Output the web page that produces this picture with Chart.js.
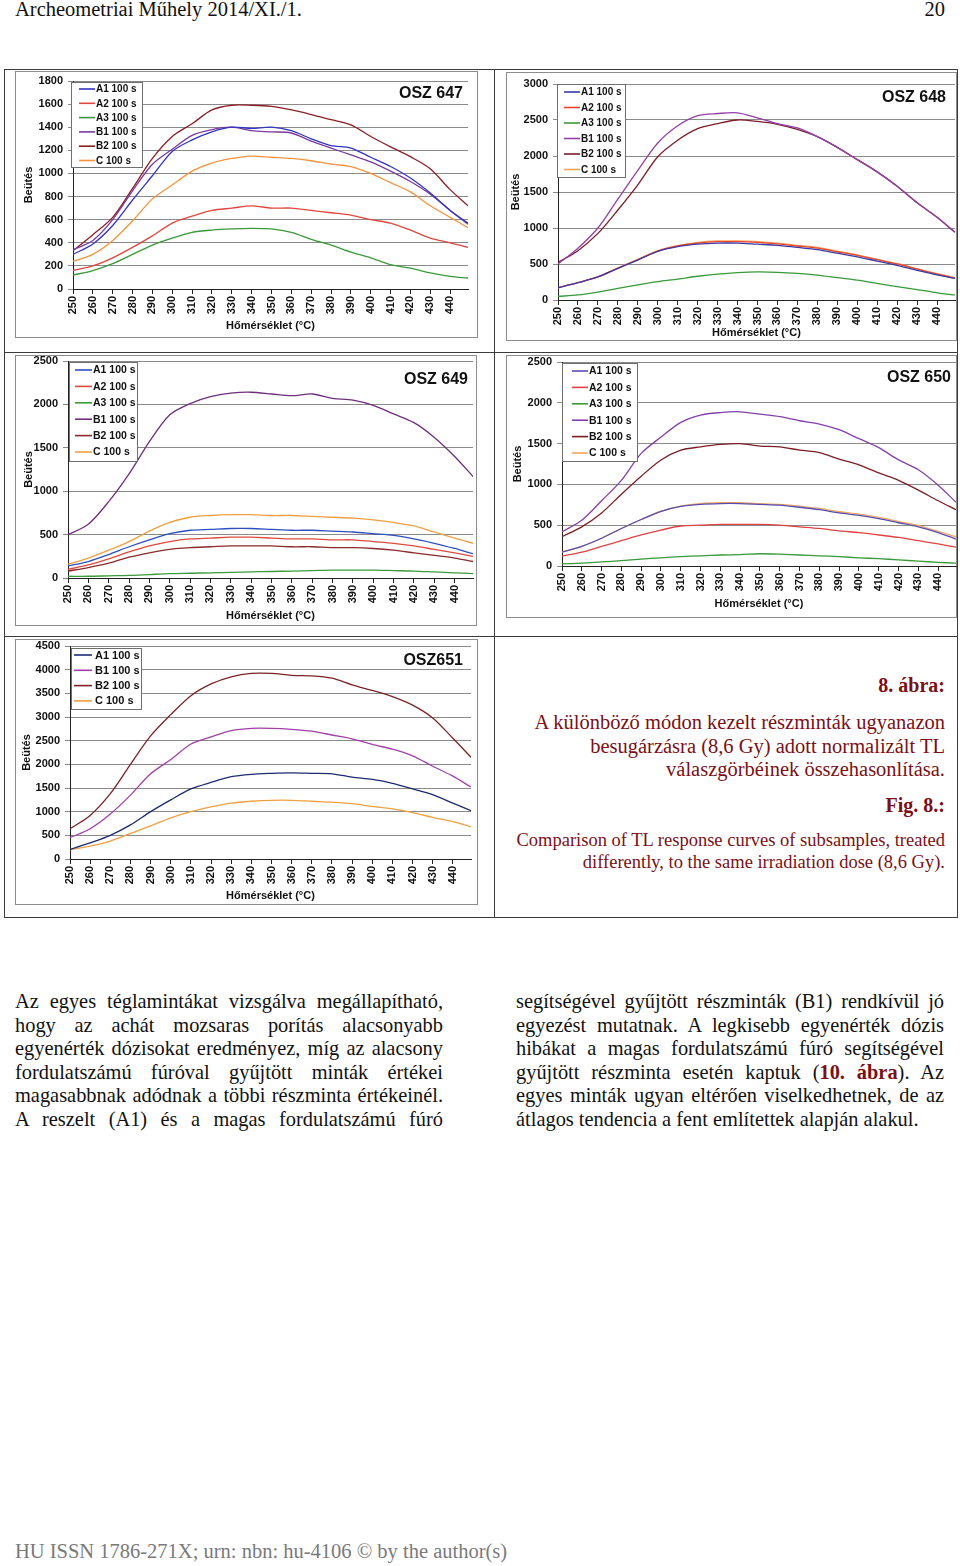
<!DOCTYPE html>
<html>
<head>
<meta charset="utf-8">
<script src="https://cdn.jsdelivr.net/npm/chart.js@4.4.1/dist/chart.umd.min.js"></script>
<style>
  body { margin: 0; width: 960px; height: 1566px; position: relative; background: #fff; overflow: hidden;
         font-family: "Liberation Serif", "Times New Roman", serif; }
  .box { position: absolute; border: 1px solid #8c8c8c; box-sizing: border-box; }
  .rule { position: absolute; background: #3c3c3c; }
  canvas { position: absolute; }
  .txt { position: absolute; white-space: nowrap; }
  .col { position: absolute; width: 428px; font-size: 20.4px; line-height: 23.6px; color: #111; }
  .col div { text-align: justify; text-align-last: justify; white-space: nowrap; }
  .col div.last { text-align-last: left; }
  .cap { position: absolute; right: 15px; text-align: right; color: #7a1015; white-space: nowrap; }
</style>
</head>
<body>

<div class="txt" style="left:15px;top:-2px;font-size:20.5px;color:#111">Archeometriai Műhely 2014/XI./1.</div>
<div class="txt" style="right:15px;top:-2px;font-size:20.5px;color:#111">20</div>

<!-- table frame -->
<div class="rule" style="left:4px;top:69px;width:954px;height:1px"></div>
<div class="rule" style="left:4px;top:352px;width:954px;height:1px"></div>
<div class="rule" style="left:4px;top:636px;width:954px;height:1px"></div>
<div class="rule" style="left:4px;top:917px;width:954px;height:1px"></div>
<div class="rule" style="left:4px;top:69px;width:1px;height:849px"></div>
<div class="rule" style="left:494px;top:69px;width:1px;height:849px"></div>
<div class="rule" style="left:957px;top:69px;width:1px;height:849px"></div>

<!-- chart panels -->
<div class="box" style="left:15px;top:71px;width:463px;height:267px"></div>
<div class="box" style="left:506px;top:72px;width:451px;height:269px"></div>
<div class="box" style="left:15px;top:355px;width:462px;height:271px"></div>
<div class="box" style="left:506px;top:355px;width:451px;height:263px"></div>
<div class="box" style="left:15px;top:639px;width:463px;height:266px"></div>

<canvas id="c647" width="478" height="283" style="left:8px;top:62px"></canvas>
<canvas id="c648" width="460" height="280" style="left:500px;top:64px"></canvas>
<canvas id="c649" width="478" height="284" style="left:8px;top:348px"></canvas>
<canvas id="c650" width="460" height="275" style="left:500px;top:350px"></canvas>
<canvas id="c651" width="478" height="280" style="left:8px;top:634px"></canvas>

<div class="cap" style="top:674px;font-size:20px;font-weight:bold">8. ábra:</div>
<div class="cap" style="top:711px;font-size:20.5px;line-height:23.5px">A különböző módon kezelt részminták ugyanazon<br>besugárzásra (8,6 Gy) adott normalizált TL<br>válaszgörbéinek összehasonlítása.</div>
<div class="cap" style="top:794px;font-size:20px;font-weight:bold">Fig. 8.:</div>
<div class="cap" style="top:829px;font-size:18.5px;line-height:22px">Comparison of TL response curves of subsamples, treated<br>differently, to the same irradiation dose (8,6 Gy).</div>

<div class="col" style="left:15px;top:990px">
  <div>Az egyes téglamintákat vizsgálva megállapítható,</div>
  <div>hogy az achát mozsaras porítás alacsonyabb</div>
  <div>egyenérték dózisokat eredményez, míg az alacsony</div>
  <div>fordulatszámú fúróval gyűjtött minták értékei</div>
  <div>magasabbnak adódnak a többi részminta értékeinél.</div>
  <div>A reszelt (A1) és a magas fordulatszámú fúró</div>
</div>
<div class="col" style="left:516px;top:990px">
  <div>segítségével gyűjtött részminták (B1) rendkívül jó</div>
  <div>egyezést mutatnak. A legkisebb egyenérték dózis</div>
  <div>hibákat a magas fordulatszámú fúró segítségével</div>
  <div>gyűjtött részminta esetén kaptuk (<b style="color:#7a1015">10. ábra</b>). Az</div>
  <div>egyes minták ugyan eltérően viselkedhetnek, de az</div>
  <div class="last">átlagos tendencia a fent említettek alapján alakul.</div>
</div>

<div class="txt" style="left:15px;top:1540px;font-size:20.5px;color:#7a7a7a">HU ISSN 1786-271X; urn: nbn: hu-4106 © by the author(s)</div>

<script>
// temperatures (°C) where the curves were read
const temps = [250, 260, 270, 280, 290, 300, 310, 320, 330, 340, 350, 360, 370, 380, 390, 400, 410, 420, 430, 440, 449];

// OSZ 647
const osz647A1 = [300, 390, 550, 770, 980, 1190, 1290, 1360, 1400, 1390, 1400, 1370, 1300, 1240, 1220, 1140, 1060, 960, 830, 680, 570];
const osz647A2 = [160, 200, 270, 360, 460, 570, 630, 680, 700, 720, 700, 700, 680, 660, 640, 600, 570, 510, 440, 400, 360];
const osz647A3 = [120, 160, 220, 300, 380, 440, 490, 510, 520, 525, 520, 490, 430, 380, 320, 270, 210, 180, 140, 110, 95];
const osz647B1 = [340, 420, 600, 850, 1080, 1210, 1330, 1380, 1400, 1370, 1360, 1350, 1280, 1220, 1160, 1100, 1020, 930, 820, 680, 560];
const osz647B2 = [330, 470, 620, 870, 1130, 1320, 1430, 1550, 1590, 1590, 1580, 1550, 1510, 1465, 1420, 1320, 1230, 1145, 1040, 860, 720];
const osz647C  = [240, 300, 420, 590, 780, 900, 1020, 1090, 1130, 1150, 1140, 1130, 1110, 1080, 1060, 1000, 920, 840, 720, 620, 530];

// OSZ 648
const osz648A1 = [170, 240, 320, 440, 555, 675, 740, 775, 790, 790, 775, 760, 730, 700, 650, 600, 540, 480, 410, 350, 300];
const osz648A2 = [170, 240, 320, 440, 560, 680, 750, 790, 810, 810, 800, 780, 750, 720, 670, 620, 560, 500, 430, 360, 300];
const osz648A3 = [50, 70, 110, 160, 210, 255, 290, 330, 360, 380, 390, 385, 370, 345, 310, 275, 230, 185, 145, 100, 70];
const osz648B1 = [500, 720, 1000, 1400, 1800, 2180, 2420, 2560, 2590, 2600, 2530, 2450, 2390, 2270, 2120, 1950, 1780, 1580, 1350, 1150, 940];
const osz648B2 = [520, 685, 925, 1250, 1600, 1990, 2220, 2380, 2450, 2500, 2480, 2440, 2370, 2270, 2120, 1950, 1780, 1580, 1350, 1150, 940];
const osz648C  = [170, 240, 325, 445, 565, 685, 755, 800, 820, 820, 810, 790, 760, 730, 680, 625, 565, 505, 435, 365, 310];

// OSZ 649
const osz649A1 = [140, 190, 270, 360, 440, 510, 550, 560, 570, 570, 560, 550, 550, 540, 530, 510, 490, 450, 400, 340, 280];
const osz649A2 = [100, 150, 220, 300, 370, 420, 450, 460, 470, 470, 460, 450, 450, 440, 440, 420, 400, 370, 330, 290, 250];
const osz649A3 = [20, 20, 25, 30, 40, 50, 55, 60, 65, 70, 75, 80, 85, 90, 90, 90, 85, 80, 70, 60, 50];
const osz649B1 = [500, 620, 880, 1200, 1570, 1880, 2010, 2090, 2130, 2140, 2120, 2100, 2120, 2070, 2050, 1990, 1890, 1790, 1620, 1400, 1170];
const osz649B2 = [80, 120, 170, 240, 290, 330, 350, 360, 370, 370, 370, 360, 360, 350, 350, 340, 320, 290, 260, 230, 190];
const osz649C  = [160, 230, 320, 420, 540, 640, 700, 720, 730, 730, 720, 720, 710, 700, 690, 670, 640, 600, 530, 460, 400];

// OSZ 650
const osz650A1 = [170, 240, 340, 460, 570, 670, 730, 755, 765, 765, 755, 745, 720, 690, 650, 620, 580, 530, 480, 410, 330];
const osz650A2 = [120, 170, 240, 310, 380, 440, 490, 500, 510, 510, 510, 500, 480, 460, 430, 410, 380, 350, 310, 270, 230];
const osz650A3 = [25, 35, 50, 65, 85, 100, 115, 125, 135, 140, 150, 145, 135, 125, 115, 100, 90, 75, 60, 45, 35];
const osz650B1 = [420, 560, 800, 1050, 1380, 1580, 1760, 1850, 1880, 1890, 1860, 1830, 1780, 1740, 1670, 1560, 1450, 1300, 1180, 990, 780];
const osz650B2 = [360, 480, 650, 880, 1100, 1300, 1420, 1460, 1490, 1500, 1470, 1460, 1420, 1390, 1310, 1240, 1140, 1050, 930, 800, 690];
const osz650C  = [170, 240, 340, 460, 570, 670, 735, 765, 775, 775, 765, 755, 735, 705, 665, 635, 595, 545, 495, 425, 355];

// OSZ 651
const osz651A1 = [200, 340, 500, 720, 1000, 1250, 1480, 1620, 1740, 1790, 1810, 1820, 1810, 1800, 1730, 1680, 1600, 1480, 1360, 1180, 1020];
const osz651B1 = [450, 640, 950, 1350, 1800, 2100, 2430, 2580, 2710, 2760, 2760, 2740, 2700, 2620, 2540, 2420, 2320, 2180, 1960, 1750, 1520];
const osz651B2 = [640, 920, 1380, 2000, 2600, 3050, 3450, 3700, 3850, 3920, 3920, 3880, 3870, 3820, 3680, 3560, 3430, 3250, 2980, 2550, 2150];
const osz651C  = [200, 270, 380, 540, 700, 870, 1000, 1100, 1180, 1220, 1240, 1240, 1220, 1200, 1170, 1110, 1060, 980, 880, 790, 680];

const sans = "'Liberation Sans', Arial, sans-serif";

// white legend box inside the plot plus the sample name (OSZ ...) at the top right
const insideLegend = {
    id: 'insideLegend',
    afterDatasetsDraw(chart, args, o) {
        const ctx = chart.ctx;
        ctx.save();
        ctx.fillStyle = '#fff';
        ctx.fillRect(o.x, o.y, o.w, o.h);
        ctx.strokeStyle = '#6f6f6f';
        ctx.lineWidth = 1;
        ctx.strokeRect(o.x + 0.5, o.y + 0.5, o.w, o.h);
        ctx.textBaseline = 'middle';
        chart.data.datasets.forEach((ds, i) => {
            const yy = o.first + i * o.step;
            ctx.strokeStyle = ds.borderColor;
            ctx.lineWidth = 1.6;
            ctx.beginPath();
            ctx.moveTo(o.l1, yy);
            ctx.lineTo(o.l2, yy);
            ctx.stroke();
            ctx.fillStyle = '#111';
            ctx.font = 'bold ' + o.size + 'px ' + sans;
            ctx.fillText(ds.label, o.tx, yy + 0.5);
        });
        ctx.font = 'bold 16px ' + sans;
        ctx.textAlign = 'right';
        ctx.fillText(o.name, o.nx, o.ny);
        ctx.restore();
    }
};

function drawTL(id, g, yMax, yStep, sets, lg, name) {
    // g = canvas and plot area in page pixels, lg = legend in page pixels
    const yLeft = g.yTitleX - 6.6;
    const xBottom = g.xTitleY + 6.6;
    const yWidth = g.L - yLeft;
    const xHeight = xBottom - g.B;
    const toC = v => ({
        x: v.x - g.cx, y: v.y - g.cy, w: v.w, h: v.h,
        first: v.first - g.cy, step: v.step,
        l1: v.l1 - g.cx, l2: v.l2 - g.cx, tx: v.tx - g.cx, size: v.size,
        name: name.text, nx: name.x - g.cx, ny: name.y - g.cy
    });

    new Chart(document.getElementById(id), {
        type: 'line',
        data: {
            datasets: sets.map(s => ({
                label: s.label,
                data: temps.map((t, i) => ({x: t, y: s.data[i]})),
                borderColor: s.color,
                borderWidth: 1.3,
                pointRadius: 0,
                tension: 0.3,
                fill: false
            }))
        },
        options: {
            responsive: false,
            animation: false,
            layout: {
                padding: {
                    left: yLeft - g.cx,
                    top: g.T - g.cy,
                    right: g.cx + g.cw - g.R,
                    bottom: g.cy + g.ch - xBottom
                }
            },
            scales: {
                x: {
                    type: 'linear',
                    min: 250,
                    max: 449,
                    afterFit: s => { s.height = xHeight; },
                    border: {color: '#222', width: 1},
                    grid: {drawOnChartArea: false, tickLength: 5, color: '#222'},
                    ticks: {
                        stepSize: 10,
                        includeBounds: false,
                        autoSkip: false,
                        minRotation: 90,
                        maxRotation: 90,
                        padding: 2,
                        color: '#111',
                        callback: v => String(v),
                        font: {family: sans, size: 11, weight: 'bold'}
                    },
                    title: {
                        display: true,
                        text: 'Hőmérséklet (°C)',
                        padding: 0,
                        color: '#111',
                        font: {family: sans, size: 11, weight: 'bold'}
                    }
                },
                y: {
                    min: 0,
                    max: yMax,
                    afterFit: s => { s.width = yWidth; },
                    border: {color: '#222', width: 1},
                    grid: {color: '#8a8a8a', tickLength: 5},
                    ticks: {
                        stepSize: yStep,
                        padding: 5,
                        color: '#111',
                        callback: v => String(v),
                        font: {family: sans, size: 11, weight: 'bold'}
                    },
                    title: {
                        display: true,
                        text: 'Beütés',
                        padding: 0,
                        color: '#111',
                        font: {family: sans, size: 11, weight: 'bold'}
                    }
                }
            },
            plugins: {
                legend: {display: false},
                tooltip: {enabled: false},
                insideLegend: toC(lg)
            }
        },
        plugins: [insideLegend]
    });
}

drawTL('c647',
    {cx: 8, cy: 62, cw: 478, ch: 283, L: 73, T: 81, R: 468, B: 289, yTitleX: 29, xTitleY: 326},
    1800, 200,
    [
        {label: 'A1 100 s', data: osz647A1, color: '#3333c4'},
        {label: 'A2 100 s', data: osz647A2, color: '#e0463e'},
        {label: 'A3 100 s', data: osz647A3, color: '#3a993a'},
        {label: 'B1 100 s', data: osz647B1, color: '#7a3c9e'},
        {label: 'B2 100 s', data: osz647B2, color: '#8a1f26'},
        {label: 'C 100 s',  data: osz647C,  color: '#f5923e'}
    ],
    {x: 71, y: 82, w: 71, h: 85, first: 89, step: 14.3, l1: 79, l2: 95, tx: 96, size: 10},
    {text: 'OSZ 647', x: 463, y: 94});

drawTL('c648',
    {cx: 500, cy: 64, cw: 460, ch: 280, L: 558, T: 84, R: 955, B: 300, yTitleX: 516, xTitleY: 333},
    3000, 500,
    [
        {label: 'A1 100 s', data: osz648A1, color: '#3a3aa6'},
        {label: 'A2 100 s', data: osz648A2, color: '#e8472e'},
        {label: 'A3 100 s', data: osz648A3, color: '#3a993a'},
        {label: 'B1 100 s', data: osz648B1, color: '#9241a8'},
        {label: 'B2 100 s', data: osz648B2, color: '#7c1d2a'},
        {label: 'C 100 s',  data: osz648C,  color: '#f7a05a'}
    ],
    {x: 557, y: 84, w: 68, h: 93, first: 92, step: 15.5, l1: 564, l2: 580, tx: 581, size: 10},
    {text: 'OSZ 648', x: 946, y: 98});

drawTL('c649',
    {cx: 8, cy: 348, cw: 478, ch: 284, L: 68, T: 361, R: 473, B: 578, yTitleX: 29, xTitleY: 616},
    2500, 500,
    [
        {label: 'A1 100 s', data: osz649A1, color: '#2e4fc0'},
        {label: 'A2 100 s', data: osz649A2, color: '#e04a3e'},
        {label: 'A3 100 s', data: osz649A3, color: '#3c9a3c'},
        {label: 'B1 100 s', data: osz649B1, color: '#6e2f7c'},
        {label: 'B2 100 s', data: osz649B2, color: '#8a2a2a'},
        {label: 'C 100 s',  data: osz649C,  color: '#f0a040'}
    ],
    {x: 69, y: 362, w: 68, h: 99, first: 370, step: 16.4, l1: 75, l2: 92, tx: 93, size: 10.5},
    {text: 'OSZ 649', x: 468, y: 380});

drawTL('c650',
    {cx: 500, cy: 350, cw: 460, ch: 275, L: 562, T: 362, R: 956, B: 566, yTitleX: 518, xTitleY: 604},
    2500, 500,
    [
        {label: 'A1 100 s', data: osz650A1, color: '#5a4db0'},
        {label: 'A2 100 s', data: osz650A2, color: '#e04242'},
        {label: 'A3 100 s', data: osz650A3, color: '#3a993a'},
        {label: 'B1 100 s', data: osz650B1, color: '#8440aa'},
        {label: 'B2 100 s', data: osz650B2, color: '#7a1f26'},
        {label: 'C 100 s',  data: osz650C,  color: '#f0a860'}
    ],
    {x: 562, y: 363, w: 75, h: 98, first: 371, step: 16.4, l1: 572, l2: 588, tx: 589, size: 10.5},
    {text: 'OSZ 650', x: 951, y: 378});

drawTL('c651',
    {cx: 8, cy: 634, cw: 478, ch: 280, L: 70, T: 646, R: 471, B: 859, yTitleX: 27, xTitleY: 896},
    4500, 500,
    [
        {label: 'A1 100 s', data: osz651A1, color: '#1f2a70'},
        {label: 'B1 100 s', data: osz651B1, color: '#a040a8'},
        {label: 'B2 100 s', data: osz651B2, color: '#7a2226'},
        {label: 'C 100 s',  data: osz651C,  color: '#f0a040'}
    ],
    {x: 71, y: 648, w: 70, h: 61, first: 655, step: 15.3, l1: 74, l2: 92, tx: 95, size: 11},
    {text: 'OSZ651', x: 463, y: 661});
</script>
</body>
</html>
